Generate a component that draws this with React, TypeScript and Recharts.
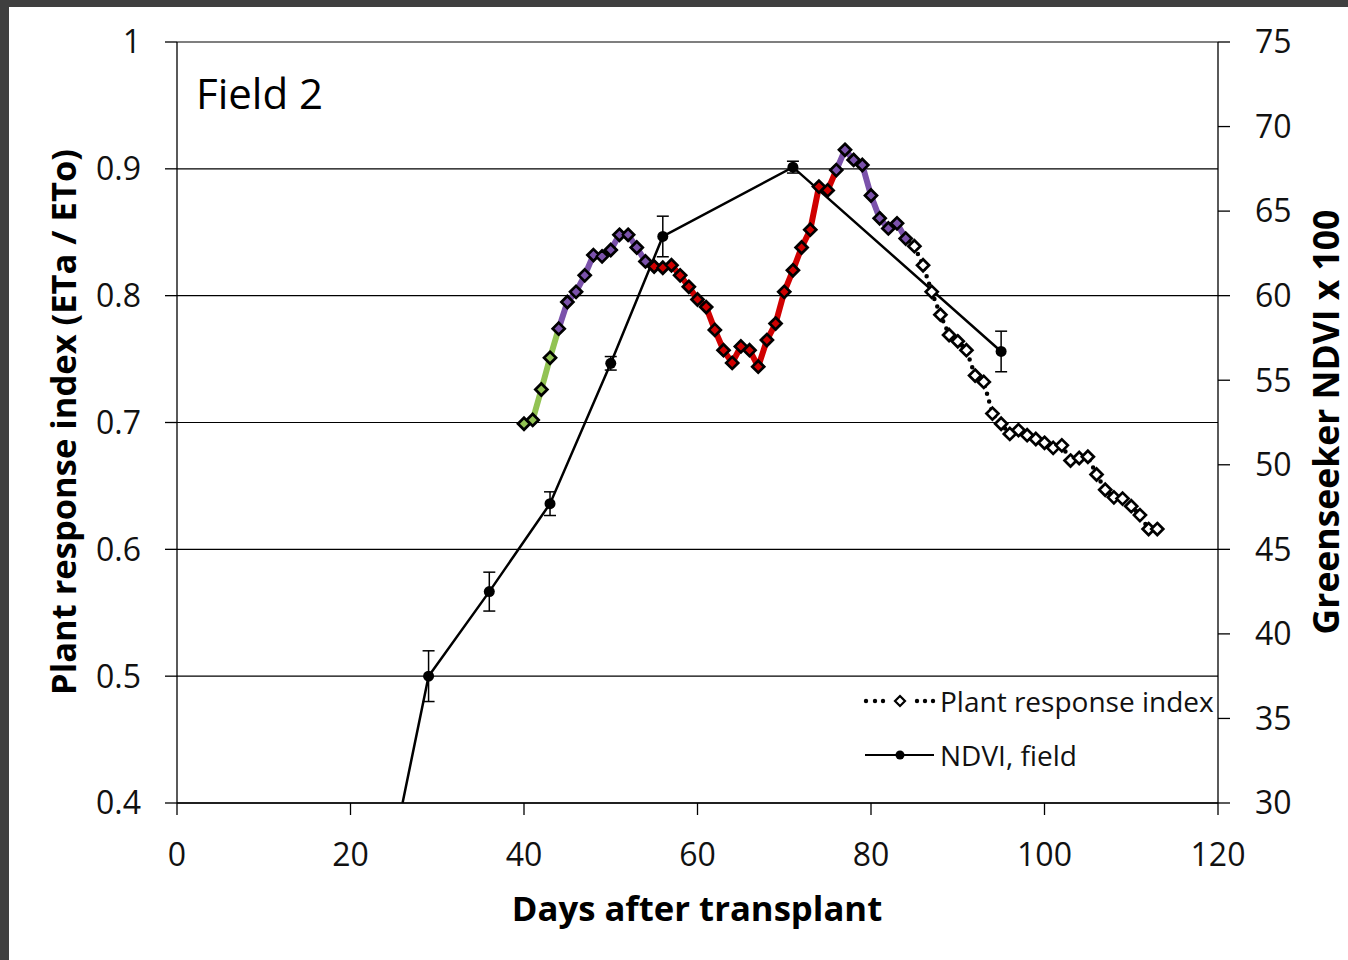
import { CartesianGrid, ErrorBar, Line, LineChart, XAxis, YAxis } from "recharts";

// Plant response index (ETa / ETo), roughly daily
const priDays = [
	40, 41, 42, 43, 44, 45, 46, 47, 48, 49, 50, 51, 52, 53, 54, 55, 56, 57, 58, 59,
	60, 61, 62, 63, 64, 65, 66, 67, 68, 69, 70, 71, 72, 73, 74, 75, 76, 77, 78, 79,
	80, 81, 82, 83, 84, 85, 86, 87, 88, 89, 90, 91, 92, 93, 94, 95, 96, 97, 98, 99,
	100, 101, 102, 103, 104, 105, 106, 107, 108, 109, 110, 111, 112, 113,
];
const priValues = [
	0.699, 0.702, 0.726, 0.751, 0.774, 0.795, 0.803, 0.816, 0.832, 0.831, 0.836, 0.848, 0.848, 0.838, 0.827, 0.823, 0.822, 0.824, 0.816, 0.807,
	0.797, 0.791, 0.773, 0.757, 0.747, 0.76, 0.757, 0.744, 0.765, 0.778, 0.803, 0.82, 0.838, 0.852, 0.886, 0.883, 0.899, 0.915, 0.907, 0.903,
	0.879, 0.861, 0.853, 0.857, 0.845, 0.839, 0.824, 0.803, 0.785, 0.769, 0.764, 0.757, 0.737, 0.732, 0.707, 0.699, 0.691, 0.694, 0.69, 0.687,
	0.684, 0.68, 0.682, 0.67, 0.672, 0.673, 0.659, 0.647, 0.641, 0.64, 0.634, 0.627, 0.616, 0.616,
];

// coloured stretches of the index curve (first day, last day)
const greenStretch = [40, 44];
const purpleStretches = [
	[44, 55],
	[76, 84],
];
const redStretch = [55, 76];

// Greenseeker NDVI x 100 with error bars
const ndviDays = [26, 29, 36, 43, 50, 56, 71, 95];
const ndviValues = [30, 37.5, 42.5, 47.7, 56.0, 63.5, 67.6, 56.7];
const ndviErrors = [null, 1.5, 1.15, 0.7, 0.4, 1.2, 0.35, 1.2];

const xTicks = [0, 20, 40, 60, 80, 100, 120];
const leftTicks = [0.4, 0.5, 0.6, 0.7, 0.8, 0.9, 1];
const rightTicks = [30, 35, 40, 45, 50, 55, 60, 65, 70, 75];

const font = '"Open Sans", sans-serif';
const tickStyle = { fontSize: 32, fill: "#111", fontFamily: font };
const lineStyle = { stroke: "#000", strokeWidth: 1.3 };

const diamondPath = (cx: number, cy: number, r: number) =>
	`M${cx},${cy - r}L${cx + r},${cy}L${cx},${cy + r}L${cx - r},${cy}Z`;

const Diamond = (props: any) => {
	const { cx, cy, index } = props;
	if (cx == null || cy == null) return <g key={`pd${index}`} />;
	return (
		<path
			key={`pd${index}`}
			d={diamondPath(cx, cy, 6)}
			fill="#fff"
			stroke="#000"
			strokeWidth={2.7}
		/>
	);
};

// markers under the coloured stretches: black rim, coloured centre
const colouredDiamond = (color: string) => (props: any) => {
	const { cx, cy, index } = props;
	if (cx == null || cy == null) return <g key={`cd${index}`} />;
	return (
		<path
			key={`cd${index}`}
			d={diamondPath(cx, cy, 5.5)}
			fill={color}
			stroke="#000"
			strokeWidth={2}
		/>
	);
};

const NdviDot = (props: any) => {
	const { cx, cy, index, payload } = props;
	// the first point only marks where the line leaves the plot
	if (cx == null || payload.err == null) return <g key={`nd${index}`} />;
	return <circle key={`nd${index}`} cx={cx} cy={cy} r={5.5} fill="#000" />;
};

const App = () => {
	const priData = priDays.map((day, i) => ({ day, pri: priValues[i] }));
	const ndviData = ndviDays.map((day, i) => ({
		day,
		ndvi: ndviValues[i],
		err: ndviErrors[i],
	}));

	const stretches = [
		{ range: greenStretch, color: "#92C353" },
		{ range: purpleStretches[0], color: "#7B52AB" },
		{ range: redStretch, color: "#D00000" },
		{ range: purpleStretches[1], color: "#7B52AB" },
	];

	return (
		<div
			style={{
				position: "absolute",
				left: 0,
				top: 0,
				width: 1348,
				height: 960,
				background: "#3f3f3f",
				overflow: "hidden",
			}}
		>
			<div
				style={{
					position: "absolute",
					left: 9,
					top: 7,
					right: 0,
					bottom: 0,
					background: "#fff",
				}}
			/>
			<div style={{ position: "absolute", left: 0, top: 0 }}>
				<LineChart
					width={1348}
					height={960}
					margin={{ top: 42, right: 30, bottom: 77, left: 77 }}
				>
					<CartesianGrid
						yAxisId="left"
						vertical={false}
						stroke="#000"
						strokeWidth={1.2}
					/>
					<XAxis
						type="number"
						dataKey="day"
						domain={[0, 120]}
						ticks={xTicks}
						allowDataOverflow
						height={80}
						tickSize={12}
						tickMargin={28}
						tick={tickStyle}
						axisLine={lineStyle}
						tickLine={lineStyle}
					/>
					<YAxis
						yAxisId="left"
						domain={[0.4, 1]}
						ticks={leftTicks}
						allowDataOverflow
						width={100}
						tickSize={12}
						tickMargin={24}
						tick={tickStyle}
						axisLine={lineStyle}
						tickLine={lineStyle}
					/>
					<YAxis
						yAxisId="right"
						orientation="right"
						domain={[30, 75]}
						ticks={rightTicks}
						allowDataOverflow
						width={100}
						tickSize={12}
						tickMargin={25}
						tick={{ ...tickStyle, textAnchor: "start" }}
						axisLine={lineStyle}
						tickLine={lineStyle}
					/>
					<Line
						yAxisId="left"
						data={priData}
						dataKey="pri"
						stroke="#000"
						strokeWidth={4.5}
						strokeDasharray="0 8"
						strokeLinecap="round"
						dot={Diamond}
						activeDot={false}
						isAnimationActive={false}
					/>
					{stretches.map((s, i) => (
						<Line
							key={`seg${i}`}
							yAxisId="left"
							data={priData.filter(
								(p) => p.day >= s.range[0] && p.day <= s.range[1],
							)}
							dataKey="pri"
							stroke={s.color}
							strokeWidth={6}
							strokeLinejoin="round"
							dot={colouredDiamond(s.color)}
							activeDot={false}
							isAnimationActive={false}
						/>
					))}
					<Line
						yAxisId="right"
						data={ndviData}
						dataKey="ndvi"
						stroke="#000"
						strokeWidth={2.5}
						dot={NdviDot}
						activeDot={false}
						isAnimationActive={false}
					>
						<ErrorBar
							dataKey="err"
							direction="y"
							width={6}
							stroke="#000"
							strokeWidth={1.5}
						/>
					</Line>
				</LineChart>
			</div>

			<div
				style={{
					position: "absolute",
					left: 196,
					top: 72,
					fontFamily: font,
					fontSize: 42,
					lineHeight: 1,
					color: "#000",
				}}
			>
				Field 2
			</div>

			<div
				style={{
					position: "absolute",
					left: 63 - 350,
					top: 422 - 22,
					width: 700,
					height: 44,
					lineHeight: "44px",
					textAlign: "center",
					transform: "rotate(-90deg)",
					fontFamily: font,
					fontWeight: 700,
					fontSize: 34.5,
					color: "#000",
				}}
			>
				Plant response index (ETa / ETo)
			</div>

			<div
				style={{
					position: "absolute",
					left: 1325 - 300,
					top: 422 - 22,
					width: 600,
					height: 44,
					lineHeight: "44px",
					textAlign: "center",
					transform: "rotate(-90deg)",
					fontFamily: font,
					fontWeight: 700,
					fontSize: 35.5,
					color: "#000",
				}}
			>
				Greenseeker NDVI x 100
			</div>

			<div
				style={{
					position: "absolute",
					left: 697 - 300,
					top: 908 - 24,
					width: 600,
					height: 48,
					lineHeight: "48px",
					textAlign: "center",
					fontFamily: font,
					fontWeight: 700,
					fontSize: 34.7,
					color: "#000",
				}}
			>
				Days after transplant
			</div>

			<div
				style={{
					position: "absolute",
					left: 862,
					top: 682,
					height: 38,
					display: "flex",
					alignItems: "center",
					fontFamily: font,
					fontSize: 28,
					color: "#111",
				}}
			>
				<svg width={78} height={20}>
					{[4, 13, 21, 55, 63, 71].map((x) => (
						<circle key={x} cx={x} cy={10} r={2.2} fill="#000" />
					))}
					<path d="M38,5L43,10L38,15L33,10Z" fill="#fff" stroke="#000" strokeWidth={2.2} />
				</svg>
				<span>Plant response index</span>
			</div>
			<div
				style={{
					position: "absolute",
					left: 862,
					top: 736,
					height: 38,
					display: "flex",
					alignItems: "center",
					fontFamily: font,
					fontSize: 28,
					color: "#111",
				}}
			>
				<svg width={78} height={20}>
					<line x1={3} y1={10} x2={72} y2={10} stroke="#000" strokeWidth={2} />
					<circle cx={38} cy={10} r={4.5} fill="#000" />
				</svg>
				<span>NDVI, field</span>
			</div>
		</div>
	);
};

export default App;
